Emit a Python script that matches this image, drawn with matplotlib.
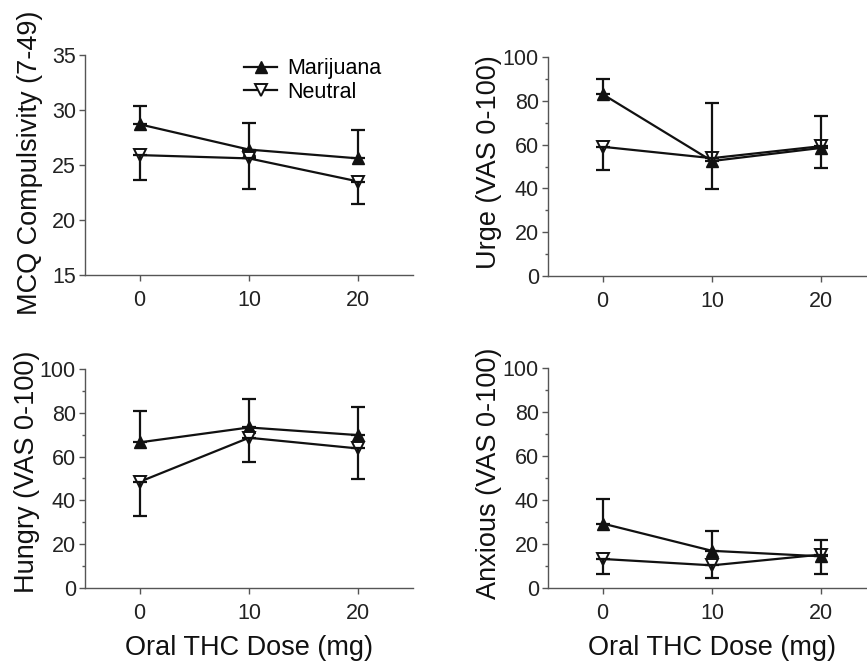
import matplotlib
matplotlib.use("Agg")
import matplotlib.pyplot as plt
import numpy as np
from matplotlib.ticker import MultipleLocator

plt.rcParams['font.family'] = ['Liberation Sans', 'DejaVu Sans']

dose = [0, 10, 20]
xticks = [0, 10, 20]

# MCQ Compulsivity
mcq_mj = [28.7, 26.4, 25.6]
mcq_mj_err = [1.7, 2.4, 2.6]
mcq_ne = [25.9, 25.6, 23.5]
mcq_ne_err = [2.3, 2.8, 2.0]

# Urge
urge_mj = [83.0, 52.5, 58.5]
urge_mj_err = [7.0, 26.5, 14.5]
urge_ne = [59.0, 53.8, 59.3]
urge_ne_err = [10.7, 14.3, 10.2]

# Hungry
hungry_mj = [66.5, 73.3, 69.8]
hungry_mj_err = [14.4, 12.8, 13.0]
hungry_ne = [48.5, 68.6, 63.7]
hungry_ne_err = [15.4, 11.0, 13.9]

# Anxious
anx_mj = [29.3, 16.9, 14.4]
anx_mj_err = [11.3, 9.1, 7.3]
anx_ne = [13.2, 10.3, 15.2]
anx_ne_err = [6.7, 5.7, 9.0]

ylabels = ["MCQ Compulsivity (7-49)", "Urge (VAS 0-100)",
           "Hungry (VAS 0-100)", "Anxious (VAS 0-100)"]
xlabel = "Oral THC Dose (mg)"
legend_labels = ["Marijuana", "Neutral"]

W, H = 867, 666
fig = plt.figure(figsize=(W / 100, H / 100), dpi=100)

def rect(left, top, right, bottom):
    return [left / W, 1 - bottom / H, (right - left) / W, (bottom - top) / H]

panels = [
    dict(rect=rect(85, 55, 413, 275), ylim=(15, 35), major=5, minor=None,
         mj=mcq_mj, mje=mcq_mj_err, ne=mcq_ne, nee=mcq_ne_err,
         ylab=ylabels[0], lab_x=-0.128, lab_y=0.51, xlab=False),
    dict(rect=rect(548, 57, 876, 276), ylim=(0, 100), major=20, minor=10,
         mj=urge_mj, mje=urge_mj_err, ne=urge_ne, nee=urge_ne_err,
         ylab=ylabels[1], lab_x=-0.14, lab_y=0.52, xlab=False),
    dict(rect=rect(85, 369, 413, 588), ylim=(0, 100), major=20, minor=10,
         mj=hungry_mj, mje=hungry_mj_err, ne=hungry_ne, nee=hungry_ne_err,
         ylab=ylabels[2], lab_x=-0.137, lab_y=0.53, xlab=True),
    dict(rect=rect(548, 368, 876, 588), ylim=(0, 100), major=20, minor=10,
         mj=anx_mj, mje=anx_mj_err, ne=anx_ne, nee=anx_ne_err,
         ylab=ylabels[3], lab_x=-0.14, lab_y=0.52, xlab=True),
]

line_col = "#111111"
spine_col = "#555555"
ms = 8.8
lw = 1.6
for i, p in enumerate(panels):
    ax = fig.add_axes(p["rect"])
    zeros = np.zeros(len(dose))
    h1, = ax.plot(dose, p["mj"], color=line_col, marker="^", ms=ms,
                  mfc=line_col, mec=line_col, lw=lw, zorder=3)
    h2, = ax.plot(dose, p["ne"], color=line_col, marker="v", ms=ms,
                  mfc="white", mec=line_col, mew=1.4, lw=lw, zorder=3)
    ax.errorbar(dose, p["mj"], yerr=[zeros, p["mje"]], fmt="none",
                ecolor=line_col, capsize=4.7, capthick=lw, elinewidth=lw,
                zorder=4)
    ax.errorbar(dose, p["ne"], yerr=[p["nee"], zeros], fmt="none",
                ecolor=line_col, capsize=4.7, capthick=lw, elinewidth=lw,
                zorder=4)
    ax.set_xlim(-5, 25)
    ax.set_ylim(*p["ylim"])
    ax.set_xticks(xticks)
    ax.yaxis.set_major_locator(MultipleLocator(p["major"]))
    if p["minor"]:
        ax.yaxis.set_minor_locator(MultipleLocator(p["minor"]))
    for s in ["top", "right"]:
        ax.spines[s].set_visible(False)
    for s in ["left", "bottom"]:
        ax.spines[s].set_color(spine_col)
        ax.spines[s].set_linewidth(1.0)
    ax.tick_params(axis="both", which="major", direction="out", length=4.5,
                   width=1.0, color=spine_col, labelsize=15.5,
                   labelcolor="#222222", pad=2)
    ax.tick_params(axis="y", which="minor", direction="out", length=2.5,
                   width=1.0, color=spine_col)
    ax.tick_params(axis="x", pad=6)
    ax.set_ylabel(p["ylab"], fontsize=19.5, color="#111111")
    ax.yaxis.set_label_coords(p["lab_x"], p["lab_y"])
    if p["xlab"]:
        ax.set_xlabel(xlabel, fontsize=19.5, color="#111111", va="top")
        ax.xaxis.set_label_coords(0.5, -0.215)
    if i == 0:
        ax.legend([h1, h2], legend_labels, loc="upper left",
                  bbox_to_anchor=(0.46, 1.025), frameon=False, fontsize=15.5,
                  handlelength=1.5, handletextpad=0.5, labelspacing=0.12,
                  borderaxespad=0.0)

fig.savefig("out.png", dpi=100)
